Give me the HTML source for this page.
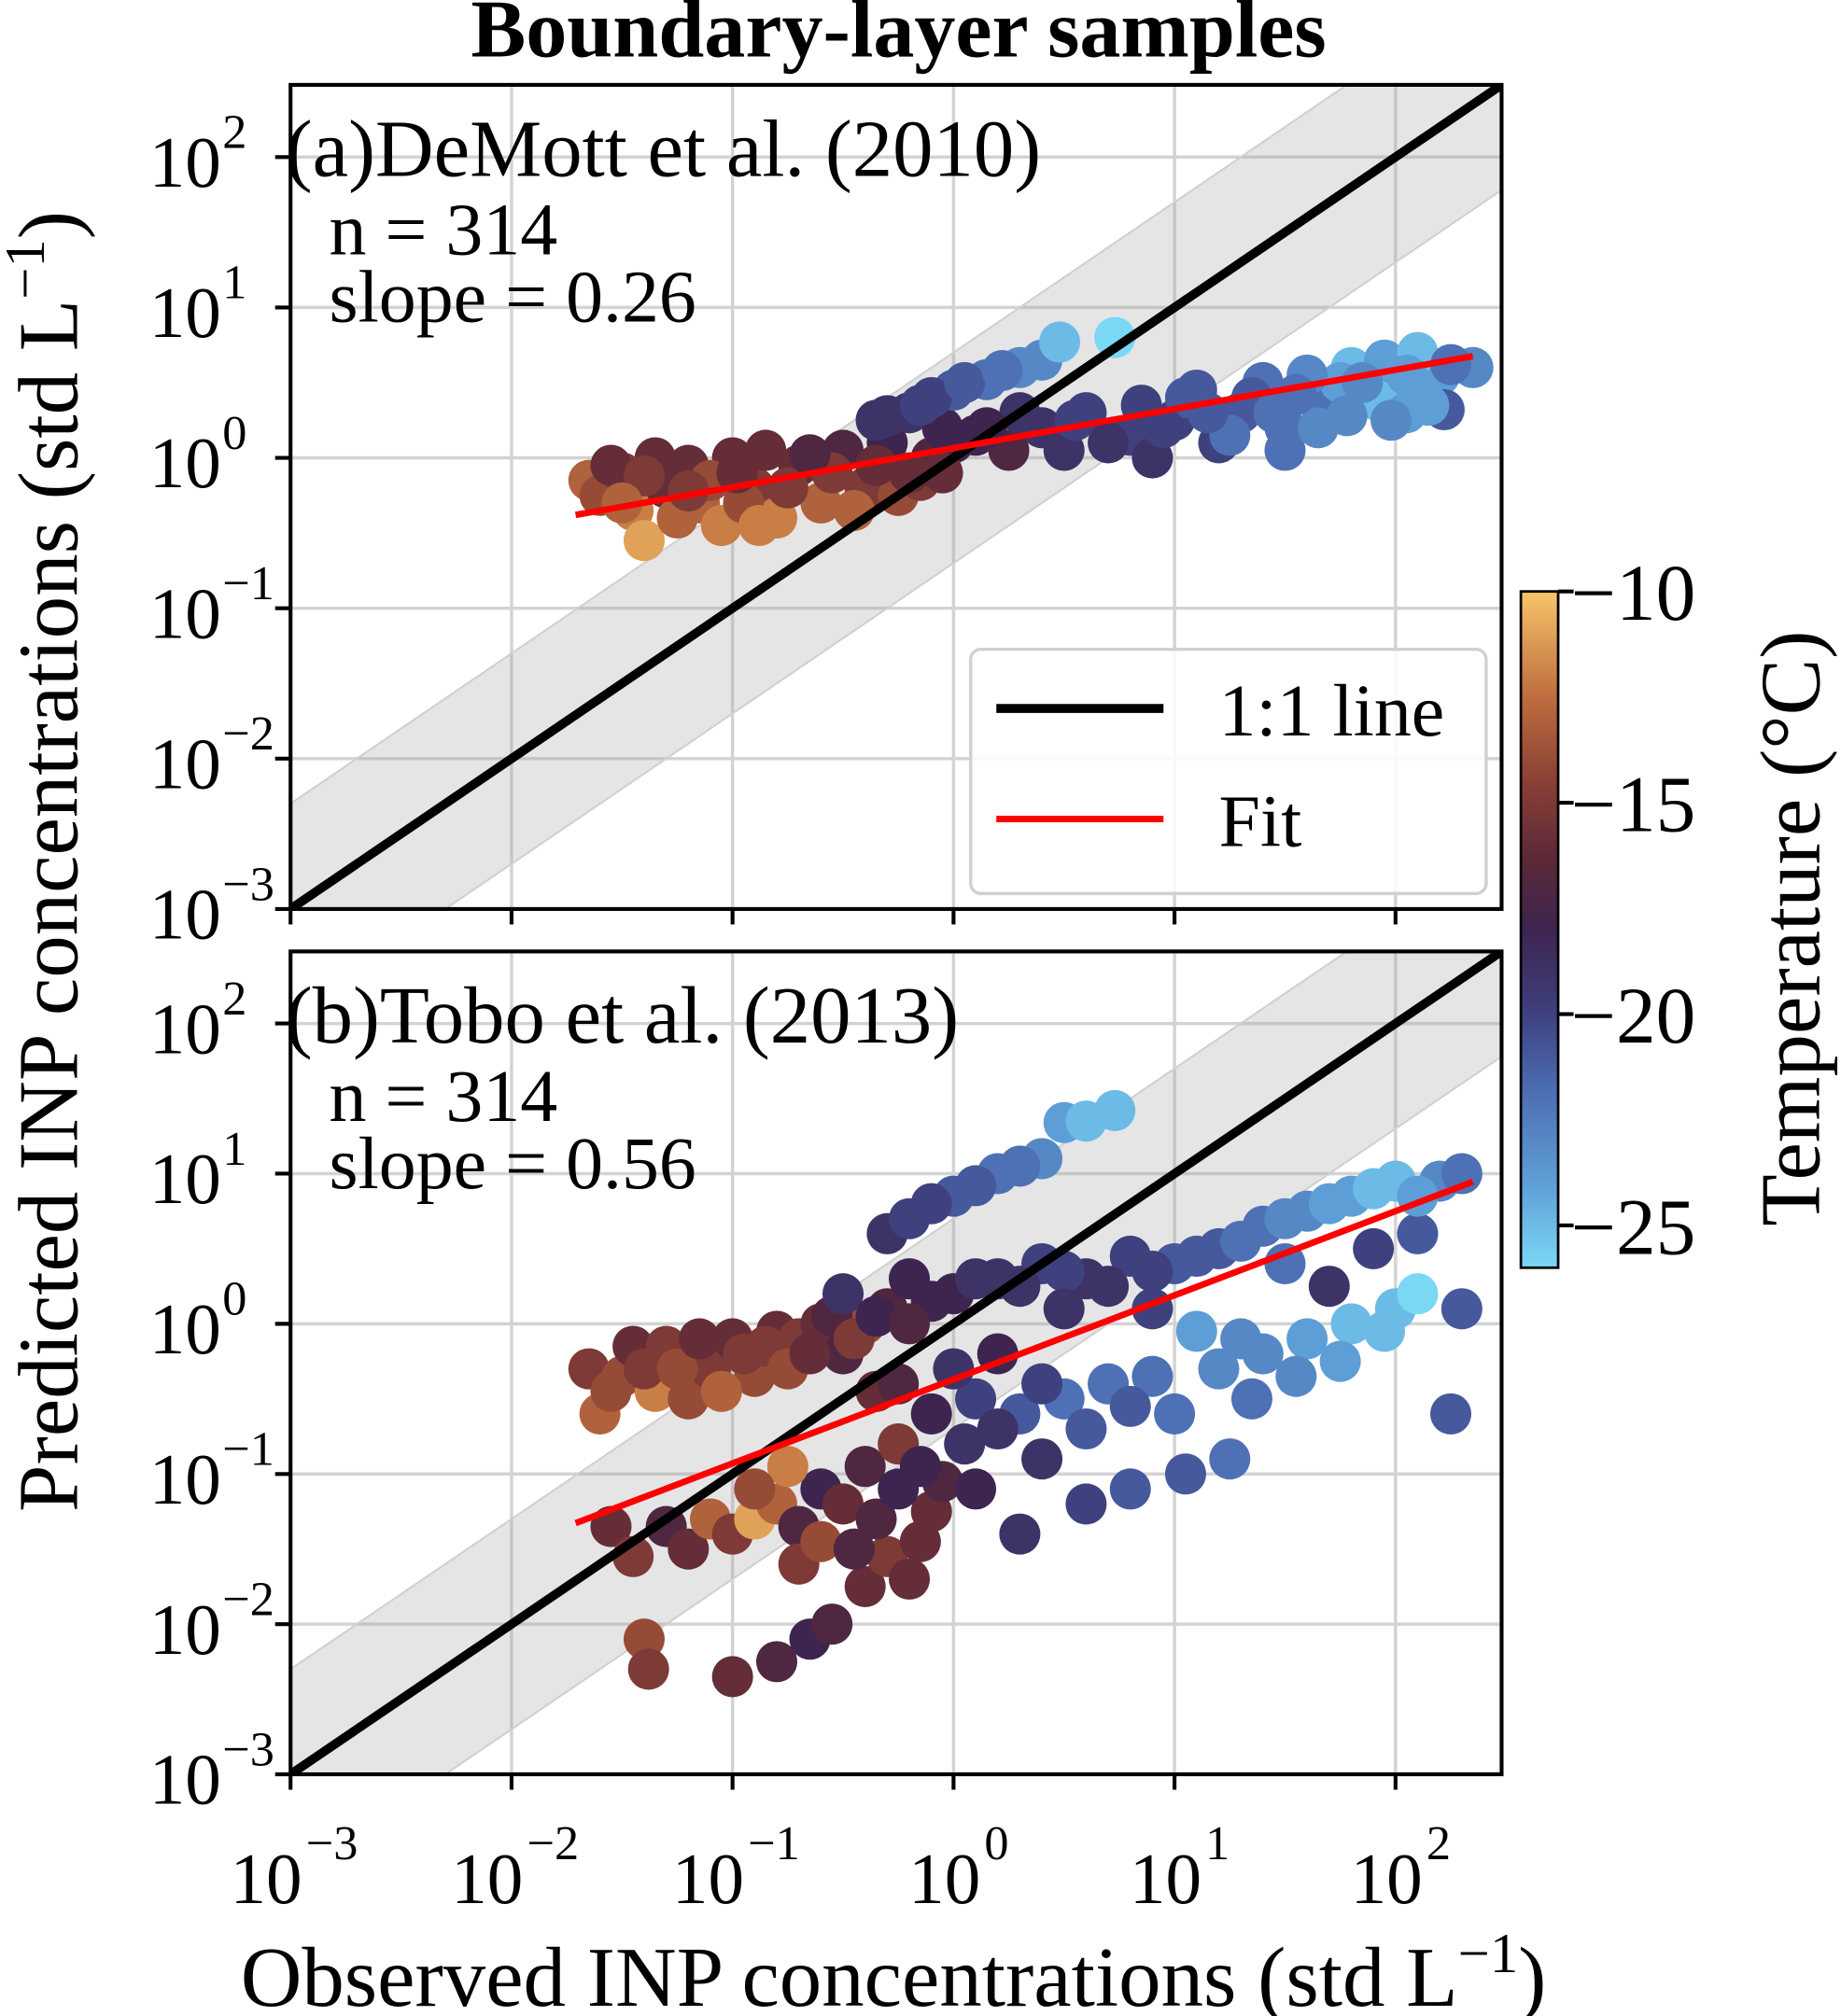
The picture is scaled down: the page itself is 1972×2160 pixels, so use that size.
<!DOCTYPE html>
<html><head><meta charset="utf-8"><style>
html,body{margin:0;padding:0;background:#fff;width:1972px;height:2160px;overflow:hidden}
svg{display:block}
text{font-family:"Liberation Serif",serif;fill:#000}
</style></head><body>
<svg id="fig" width="1972" height="2160" viewBox="0 0 1432 1568" preserveAspectRatio="none" xmlns="http://www.w3.org/2000/svg">
<defs>
<linearGradient id="cmap" x1="0" y1="1" x2="0" y2="0">
<stop offset="0" stop-color="#7ad8f5"/><stop offset="0.12" stop-color="#5fa0d8"/><stop offset="0.27" stop-color="#4b6ab0"/><stop offset="0.38" stop-color="#3e3f7c"/><stop offset="0.5" stop-color="#3d2550"/><stop offset="0.6" stop-color="#5a2838"/><stop offset="0.72" stop-color="#8a4035"/><stop offset="0.85" stop-color="#c0703f"/><stop offset="1" stop-color="#f7c56a"/>
</linearGradient>
<clipPath id="clipA"><rect x="226" y="66" width="942" height="641"/></clipPath>
<clipPath id="clipB"><rect x="226" y="740" width="942" height="640"/></clipPath>
</defs>
<text x="699" y="44" text-anchor="middle" font-size="64" font-weight="bold">Boundary-layer samples</text>
<g id="panels"></g>
<text transform="translate(60,670) rotate(-90)" text-anchor="middle" font-size="66">Predicted INP concentrations (std L<tspan dy="-26" font-size="44">−1</tspan><tspan dy="26">)</tspan></text>
<text x="695" y="1560" text-anchor="middle" font-size="66">Observed INP concentrations (std L<tspan dy="-26" font-size="44">−1</tspan><tspan dy="26">)</tspan></text>
<g>
<rect x="1183" y="460" width="29" height="526" fill="url(#cmap)" stroke="#000" stroke-width="2"/>
<g id="cbticks"></g>
<text transform="translate(1415,722) rotate(-90)" text-anchor="middle" font-size="66">Temperature (°C)</text>
</g>
</svg>
<script>
const NS="http://www.w3.org/2000/svg";
const xTicks=[-3,-2,-1,0,1,2];
const yTicks=[-3,-2,-1,0,1,2];
const cbTicks=[-10,-15,-20,-25];
const fitA=[0.065,0.26];
const fitB=[-0.37,0.56];
const fitRange=[-1.71,2.35];
const bandFactor=0.7;
// panel a: [log10 observed, log10 predicted, temperature]
const ptsA=[[-1.65,-0.15,-13],[-1.6,-0.25,-14],[-1.5,-0.1,-15],[-1.45,-0.35,-12],[-1.4,-0.55,-11],[-1.3,-0.2,-16],[-1.2,-0.05,-16],[-1.15,-0.3,-13],[-1.05,-0.45,-12],[-1.0,0.0,-16],[-0.9,-0.2,-15],[-0.8,-0.4,-12],[-0.7,-0.05,-16],[-0.6,-0.3,-13],[-0.5,0.05,-17],[-0.4,-0.2,-15],[-0.3,0.1,-18],[-0.25,-0.25,-14],[-0.1,0.0,-17],[0.0,0.1,-18],[-1.35,0.0,-16],[-1.1,-0.15,-14],[-0.85,0.05,-16],[-0.55,-0.1,-15],[-0.15,-0.15,-15],[-1.55,-0.05,-16],[-1.25,-0.4,-13],[-0.95,-0.3,-14],[-0.75,-0.2,-15],[-0.45,-0.35,-13],[-0.65,0.02,-17],[-1.4,-0.12,-15],[-1.2,-0.22,-15],[-0.98,-0.1,-16],[-0.35,-0.05,-16],[-0.2,-0.1,-16],[-0.05,-0.1,-16],[-1.5,-0.3,-13],[-0.88,-0.45,-12],[-0.35,0.25,-19],[-0.2,0.3,-19],[-0.05,0.2,-18],[0.1,0.15,-18],[0.25,0.05,-17],[-0.3,0.28,-19],[-0.15,0.35,-20],[0.0,0.45,-21],[0.15,0.52,-22],[0.3,0.6,-23],[0.4,0.65,-23],[0.48,0.77,-25],[0.73,0.8,-26],[-0.1,0.4,-20],[0.05,0.5,-21],[0.22,0.58,-22],[0.5,0.05,-19],[0.8,0.15,-20],[1.0,0.25,-20],[1.3,0.3,-21],[1.5,0.2,-22],[1.7,0.35,-22],[2.0,0.45,-23],[2.2,0.55,-24],[2.35,0.6,-23],[1.8,0.6,-25],[1.75,0.5,-24],[2.22,0.32,-21],[1.92,0.38,-25],[1.5,0.05,-22],[0.9,0.0,-19],[1.2,0.1,-20],[0.6,0.3,-20],[1.1,0.45,-21],[1.4,0.5,-22],[1.6,0.55,-23],[1.95,0.65,-24],[2.1,0.7,-25],[2.25,0.62,-22],[0.3,0.3,-19],[0.7,0.1,-19],[1.25,0.15,-22],[1.65,0.2,-23],[2.05,0.3,-24],[0.4,0.2,-19],[0.55,0.25,-20],[0.85,0.35,-20],[1.05,0.4,-21],[1.35,0.4,-21],[1.55,0.42,-22],[1.85,0.5,-23],[2.05,0.55,-24],[0.15,0.2,-18],[0.95,0.2,-20],[1.15,0.3,-21],[1.45,0.3,-22],[1.78,0.28,-23],[1.98,0.25,-23],[2.15,0.35,-24]];
const ptsB=[[-1.65,-0.3,-15],[-1.6,-0.6,-13],[-1.5,-0.35,-14],[-1.45,-0.15,-16],[-1.35,-0.45,-12],[-1.3,-0.15,-15],[-1.2,-0.5,-14],[-1.1,-0.3,-15],[-1.0,-0.1,-16],[-0.9,-0.35,-14],[-0.8,-0.05,-16],[-0.7,-0.1,-15],[-0.6,0.0,-16],[-0.5,-0.2,-17],[-0.4,0.0,-14],[-0.3,0.1,-17],[-1.55,-0.45,-14],[-1.4,-0.3,-15],[-1.25,-0.3,-14],[-1.15,-0.1,-16],[-0.95,-0.2,-15],[-0.85,-0.15,-15],[-0.75,-0.3,-14],[-0.65,-0.2,-16],[-1.05,-0.45,-13],[-0.55,0.05,-17],[-0.45,-0.1,-15],[-1.55,-1.35,-16],[-1.45,-1.55,-15],[-1.4,-2.1,-14],[-1.38,-2.3,-15],[-1.3,-1.35,-17],[-1.2,-1.5,-16],[-1.1,-1.3,-13],[-1.0,-1.4,-15],[-0.9,-1.3,-11],[-0.8,-1.2,-13],[-0.7,-1.35,-17],[-0.6,-1.1,-18],[-0.5,-1.2,-16],[-0.4,-0.95,-17],[-1.0,-2.35,-16],[-0.8,-2.25,-17],[-0.65,-2.1,-18],[-0.55,-2.0,-17],[-0.4,-1.75,-16],[-0.3,-1.55,-15],[-0.2,-1.7,-16],[-0.15,-1.45,-16],[-0.1,-1.25,-16],[-0.05,-1.05,-17],[-0.7,-1.6,-15],[-0.6,-1.45,-14],[-0.35,-1.3,-17],[-0.25,-1.1,-18],[-0.45,-1.5,-17],[-0.75,-0.95,-12],[-0.9,-1.1,-14],[-0.3,0.6,-19],[-0.2,0.7,-20],[0.0,0.85,-21],[0.2,1.0,-22],[0.4,1.1,-23],[0.5,1.34,-24],[0.6,1.35,-25],[0.73,1.42,-25],[-0.1,0.8,-20],[0.1,0.92,-21],[0.3,1.05,-22],[-0.5,0.2,-19],[-0.2,0.3,-18],[0.0,0.2,-18],[0.2,0.3,-19],[0.4,0.4,-20],[0.6,0.3,-19],[0.8,0.45,-20],[1.0,0.4,-21],[1.2,0.5,-21],[1.4,0.65,-22],[1.6,0.75,-23],[1.8,0.85,-24],[2.0,0.95,-25],[2.2,0.95,-23],[2.3,1.0,-22],[2.1,0.6,-21],[1.9,0.5,-20],[1.7,0.25,-19],[2.3,0.1,-21],[-0.35,0.05,-18],[-0.1,0.15,-18],[0.1,0.3,-19],[0.3,0.25,-19],[0.5,0.35,-20],[0.7,0.25,-19],[0.9,0.35,-20],[1.1,0.45,-21],[1.3,0.55,-22],[1.5,0.7,-23],[1.7,0.8,-24],[1.9,0.9,-25],[2.1,0.85,-24],[0.1,-0.5,-20],[0.3,-0.6,-21],[0.5,-0.5,-22],[0.7,-0.4,-22],[0.9,-0.35,-22],[1.0,-0.6,-22],[1.2,-0.3,-23],[1.4,-0.2,-23],[1.6,-0.1,-24],[1.8,0.0,-25],[2.0,0.1,-25],[2.1,0.2,-26],[1.1,-0.05,-24],[1.3,-0.1,-23],[0.8,-1.1,-21],[0.6,-1.2,-20],[1.05,-1.0,-21],[1.25,-0.9,-22],[2.25,-0.6,-21],[0.3,-1.4,-19],[0.1,-1.1,-18],[-0.1,-0.6,-18],[0.0,-0.3,-19],[-0.2,0.0,-17],[-0.35,-0.45,-16],[0.2,-0.2,-18],[0.4,-0.9,-19],[-0.25,-0.8,-15],[0.5,0.1,-19],[1.5,0.4,-22],[0.9,0.1,-20],[0.2,-0.7,-19],[0.4,-0.4,-20],[0.6,-0.7,-21],[0.8,-0.55,-21],[1.35,-0.5,-22],[1.55,-0.35,-23],[1.75,-0.25,-24],[1.95,-0.05,-25],[-0.15,-0.95,-18],[0.05,-0.8,-19],[-0.25,-0.4,-17]];
const offs=[0,0.12,0.27,0.38,0.5,0.6,0.72,0.85,1];
const cols=[[122,216,245],[95,160,216],[75,106,176],[62,63,124],[61,37,80],[90,40,56],[138,64,53],[192,112,63],[247,197,106]];
function color(t){
  const f=Math.max(0,Math.min(1,(t+26)/16));
  for(let i=0;i<offs.length-1;i++){if(f<=offs[i+1]){const u=(f-offs[i])/(offs[i+1]-offs[i]);const a=cols[i],b=cols[i+1];return `rgb(${a.map((v,k)=>Math.round(v+(b[k]-v)*u)).join(',')})`;}}
  return 'rgb(247,197,106)';
}
function mk(tag,attrs,parent){const e=document.createElementNS(NS,tag);for(const k in attrs)e.setAttribute(k,attrs[k]);parent.appendChild(e);return e;}
const X0=226,X1=1168,XMIN=-3,XMAX=2.48;
const xs=v=>X0+(v-XMIN)/(XMAX-XMIN)*(X1-X0);
const panels=document.getElementById('panels');
function panel(id,top,bottom,pts,fit,label,slope,clip,showX){
  const ys=v=>bottom-(v-XMIN)/(XMAX-XMIN)*(bottom-top);
  const g=mk('g',{},panels);
  
  
  const grid=mk('g',{},g);
  
  
  xTicks.forEach(t=>mk('line',{x1:xs(t),x2:xs(t),y1:top,y2:bottom,stroke:'#d3d3d3','stroke-width':2.5},grid));
  yTicks.forEach(t=>mk('line',{x1:X0,x2:X1,y1:ys(t),y2:ys(t),stroke:'#d3d3d3','stroke-width':2.5},grid));
  const c=mk('g',{'clip-path':`url(#${clip})`},g);
  const band=mk('polygon',{points:[[XMIN,XMIN+bandFactor],[XMAX,XMAX+bandFactor],[XMAX,XMAX-bandFactor],[XMIN,XMIN-bandFactor]].map(p=>xs(p[0])+','+ys(p[1])).join(' '),fill:'#a0a0a0','fill-opacity':0.28,stroke:'#d0d0d0','stroke-width':1.5},c);
  
  
  const sc=mk('g',{},c);
  
  
  pts.forEach(p=>{const e=mk('circle',{cx:xs(p[0]),cy:ys(p[1]),r:16,fill:color(p[2])},sc);
    
    });
  const one=mk('line',{x1:xs(XMIN),y1:ys(XMIN),x2:xs(XMAX),y2:ys(XMAX),stroke:'#000','stroke-width':7},c);
  
  
  const fl=mk('line',{x1:xs(fitRange[0]),y1:ys(fit[0]+fit[1]*fitRange[0]),x2:xs(fitRange[1]),y2:ys(fit[0]+fit[1]*fitRange[1]),stroke:'#ff0000','stroke-width':5},c);
  
  
  const fr=mk('rect',{x:X0,y:top,width:X1-X0,height:bottom-top,fill:'none',stroke:'#000','stroke-width':3},g);
  
  
  yTicks.forEach(t=>{mk('line',{x1:X0-12,x2:X0,y1:ys(t),y2:ys(t),stroke:'#000','stroke-width':3},g);
    const tx=mk('text',{x:172,y:ys(t)+23,'text-anchor':'end','font-size':56},g);tx.textContent='10';
    
    
    const s=mk('text',{x:173,y:ys(t)-7,'font-size':38},g);s.textContent=(t<0?'−':'')+Math.abs(t);
    
    });
  xTicks.forEach(t=>{mk('line',{x1:xs(t),x2:xs(t),y1:bottom,y2:bottom+12,stroke:'#000','stroke-width':3},g);
    if(showX){const tx=mk('text',{x:xs(t)+(t<0?-19:-7),y:bottom+100,'text-anchor':'middle','font-size':56},g);tx.textContent='10';
      
      
      const s=mk('text',{x:xs(t)+(t<0?12:24),y:bottom+66,'font-size':38},g);s.textContent=(t<0?'−':'')+Math.abs(t);
      
      }});
  const lt=mk('text',{x:222,y:top+71,'font-size':63},g);lt.textContent=label;
  
  
  const n=mk('text',{x:256,y:top+132,'font-size':58},g);n.textContent='n = 314';
  
  
  const sl=mk('text',{x:256,y:top+184,'font-size':58},g);sl.textContent='slope = '+slope;
  
  
}
panel('a',66,707,ptsA,fitA,'(a)DeMott et al. (2010)','0.26','clipA',false);
panel('b',740,1380,ptsB,fitB,'(b)Tobo et al. (2013)','0.56','clipB',true);
const lg=mk('g',{},panels);


mk('rect',{x:755,y:505,width:401,height:190,rx:8,fill:'#fff','fill-opacity':0.85,stroke:'#d0d0d0','stroke-width':2.5},lg);
mk('line',{x1:775,x2:905,y1:551,y2:551,stroke:'#000','stroke-width':7},lg);
const l1=mk('text',{x:948,y:572,'font-size':58},lg);l1.textContent='1:1 line';


mk('line',{x1:775,x2:905,y1:637,y2:637,stroke:'#ff0000','stroke-width':5},lg);
const l2=mk('text',{x:948,y:658,'font-size':58},lg);l2.textContent='Fit';


const cb=document.getElementById('cbticks');
const cy=t=>986-(t+26)/16*526;
cbTicks.forEach(t=>{mk('line',{x1:1212,x2:1224,y1:cy(t),y2:cy(t),stroke:'#000','stroke-width':3},cb);
  const tx=mk('text',{x:1222,y:cy(t)+22,'font-size':62},cb);tx.textContent='−'+Math.abs(t);
  
  });
</script>
</body></html>
